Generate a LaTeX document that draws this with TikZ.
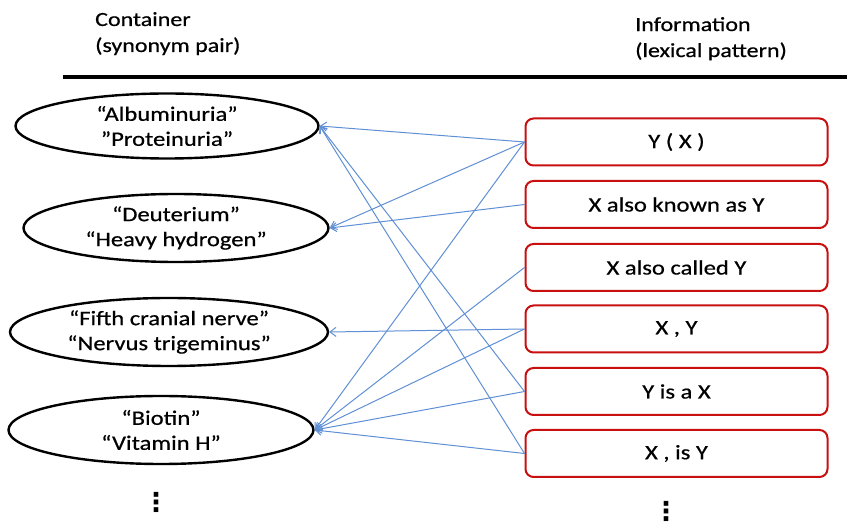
\documentclass[tikz,border=0pt]{standalone}
\usepackage{fontspec}
\setmainfont{Carlito}[FakeStretch=1.2,FakeBold=0.6]
\newfontfamily\dotsfont{DejaVu Sans Bold}
\usetikzlibrary{shapes.geometric,arrows.meta}
\definecolor{boxred}{RGB}{200,16,16}
\definecolor{linkblue}{RGB}{95,143,212}
\begin{document}
\begin{tikzpicture}[x=1pt,y=-1pt,
    pair/.style={ellipse,draw=black,line width=2.4pt,inner sep=0pt,align=center,
        font=\fontsize{20.5}{25}\selectfont},
    pattern/.style={rectangle,rounded corners=8pt,draw=boxred,line width=2pt,
        minimum width=302pt,minimum height=47pt,inner sep=0pt,
        font=\fontsize{20.5}{24}\selectfont},
    link/.style={draw=linkblue,line width=1pt,-{Straight Barb[length=6pt,width=9pt]}},
    head/.style={anchor=north west,align=left,inner sep=0pt,
        font=\fontsize{20}{26}\selectfont},
    more/.style={inner sep=0pt,font=\dotsfont\fontsize{26}{30}\selectfont}]
    \useasboundingbox (0,0) rectangle (847,526);
    % column titles
    \node[head] (hcont) at (95,12) {Container\\(synonym pair)};
    \node[head] (hinfo) at (635,17) {Information\\(lexical pattern)};
    \coordinate (ruleL) at (63,77);
    \coordinate (ruleR) at (847,77);
    \draw[line width=3.5pt] (ruleL) -- (ruleR);
    % containers
    \node[pair,minimum width=303pt,minimum height=65pt] (c1) at (167,126) {“Albuminuria”\\”Proteinuria”};
    \node[pair,minimum width=305pt,minimum height=68pt] (c2) at (176,228) {“Deuterium”\\“Heavy hydrogen”};
    \node[pair,minimum width=318pt,minimum height=68pt] (c3) at (169,332) {“Fifth cranial nerve”\\“Nervus trigeminus”};
    \node[pair,minimum width=305pt,minimum height=68pt] (c4) at (161,430) {“Biotin”\\“Vitamin H”};
    \node[more] (moreL) at (156,502) {⋮};
    % patterns
    \node[pattern] (p1) at (676.5,142) {Y ( X )};
    \node[pattern] (p2) at (676.5,204.5) {X also known as Y};
    \node[pattern] (p3) at (676.5,267.5) {X also called Y};
    \node[pattern] (p4) at (676.5,329) {X , Y};
    \node[pattern] (p5) at (676.5,391.5) {Y is a X};
    \node[pattern] (p6) at (676.5,453.5) {X , is Y};
    \node[more] (moreR) at (666,511) {⋮};
    % links
    \draw[link] (p1.west) -- (c1.east);
    \draw[link] (p1.west) -- (c2.east);
    \draw[link] (p1.west) -- (c4.east);
    \draw[link] (p2.west) -- (c2.east);
    \draw[link] (p3.west) -- (c4.east);
    \draw[link] (p4.west) -- (c3.east);
    \draw[link] (p4.west) -- (c4.east);
    \draw[link] (p5.west) -- (c1.east);
    \draw[link] (p5.west) -- (c4.east);
    \draw[link] (p6.west) -- (c1.east);
    \draw[link] (p6.west) -- (c4.east);
\end{tikzpicture}
\end{document}
